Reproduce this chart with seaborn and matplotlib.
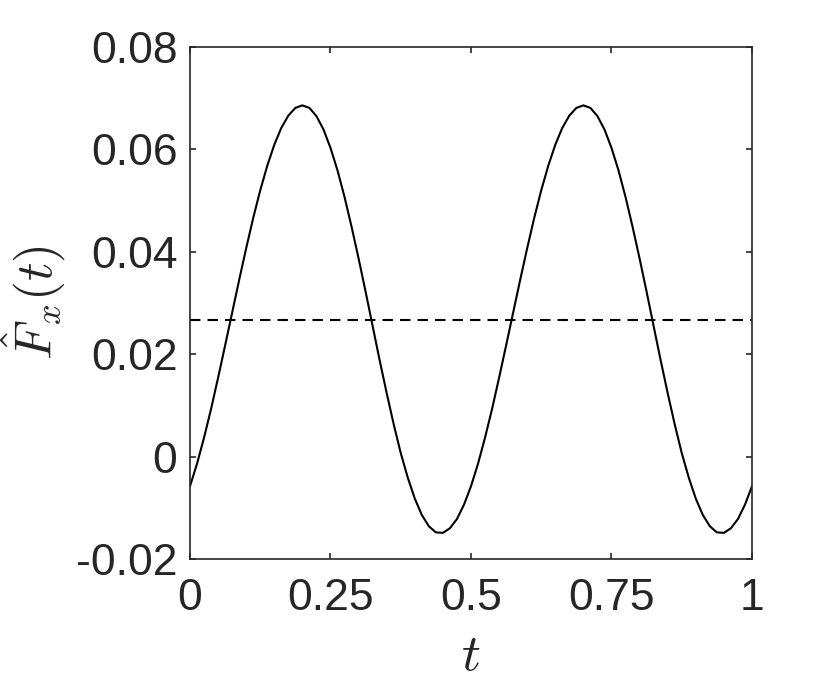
import numpy as np
import pandas as pd
import matplotlib
matplotlib.use("Agg")
import matplotlib.pyplot as plt
import seaborn as sns

# time samples and force values
t = np.linspace(0, 1, 81)
force = [
    -0.0058, -0.0014, 0.0037, 0.0093, 0.0154, 0.0217, 0.0281, 0.0345, 0.0407, 0.0466,
    0.0520, 0.0568, 0.0609, 0.0642, 0.0666, 0.0681, 0.0686, 0.0681, 0.0665, 0.0639,
    0.0603, 0.0559, 0.0507, 0.0449, 0.0387, 0.0322, 0.0255, 0.0188, 0.0124, 0.0063,
    0.0007, -0.0041, -0.0082, -0.0114, -0.0136, -0.0148, -0.0149, -0.0140, -0.0122, -0.0094,
    -0.0058, -0.0014, 0.0037, 0.0093, 0.0154, 0.0217, 0.0281, 0.0345, 0.0407, 0.0466,
    0.0520, 0.0568, 0.0609, 0.0642, 0.0666, 0.0681, 0.0686, 0.0681, 0.0665, 0.0639,
    0.0603, 0.0559, 0.0507, 0.0449, 0.0387, 0.0322, 0.0255, 0.0188, 0.0124, 0.0063,
    0.0007, -0.0041, -0.0082, -0.0114, -0.0136, -0.0148, -0.0149, -0.0140, -0.0122, -0.0094,
    -0.0058,
]
mean_force = 0.0267

xticks = [0, 0.25, 0.5, 0.75, 1]
xticklabels = ["0", "0.25", "0.5", "0.75", "1"]
yticks = [-0.02, 0, 0.02, 0.04, 0.06, 0.08]
yticklabels = ["-0.02", "0", "0.02", "0.04", "0.06", "0.08"]

df = pd.DataFrame({"t": t, "F": force})

sns.set_style("ticks")
plt.rcParams["font.family"] = ["Liberation Sans", "DejaVu Sans"]
plt.rcParams["mathtext.fontset"] = "cm"

fig = plt.figure(figsize=(8.3, 6.89), dpi=100)
ax = fig.add_axes([0.2289, 0.1887, 0.6771, 0.7431])

sns.lineplot(data=df, x="t", y="F", color="black", linewidth=1.5, ax=ax)
ax.axhline(mean_force, color="black", linewidth=1.5, dashes=(5, 3.4))

ax.set_xlim(0, 1)
ax.set_ylim(-0.02, 0.08)
ax.set_xticks(xticks)
ax.set_xticklabels(xticklabels)
ax.set_yticks(yticks)
ax.set_yticklabels(yticklabels)

for side in ["top", "right", "bottom", "left"]:
    ax.spines[side].set_visible(True)
    ax.spines[side].set_color("#262626")
    ax.spines[side].set_linewidth(1.2)

ax.tick_params(axis="both", which="major", direction="in", length=4.5, width=1.2,
               color="#262626", labelsize=32, labelcolor="#262626",
               top=True, right=True)
ax.tick_params(axis="x", pad=14)
ax.tick_params(axis="y", pad=9)

ax.set_xlabel(r"$t$", fontsize=38, labelpad=8)
ax.set_ylabel(r"$\hat{F}_x(t)$", fontsize=37, labelpad=6)

fig.savefig("out.png", dpi=100)
